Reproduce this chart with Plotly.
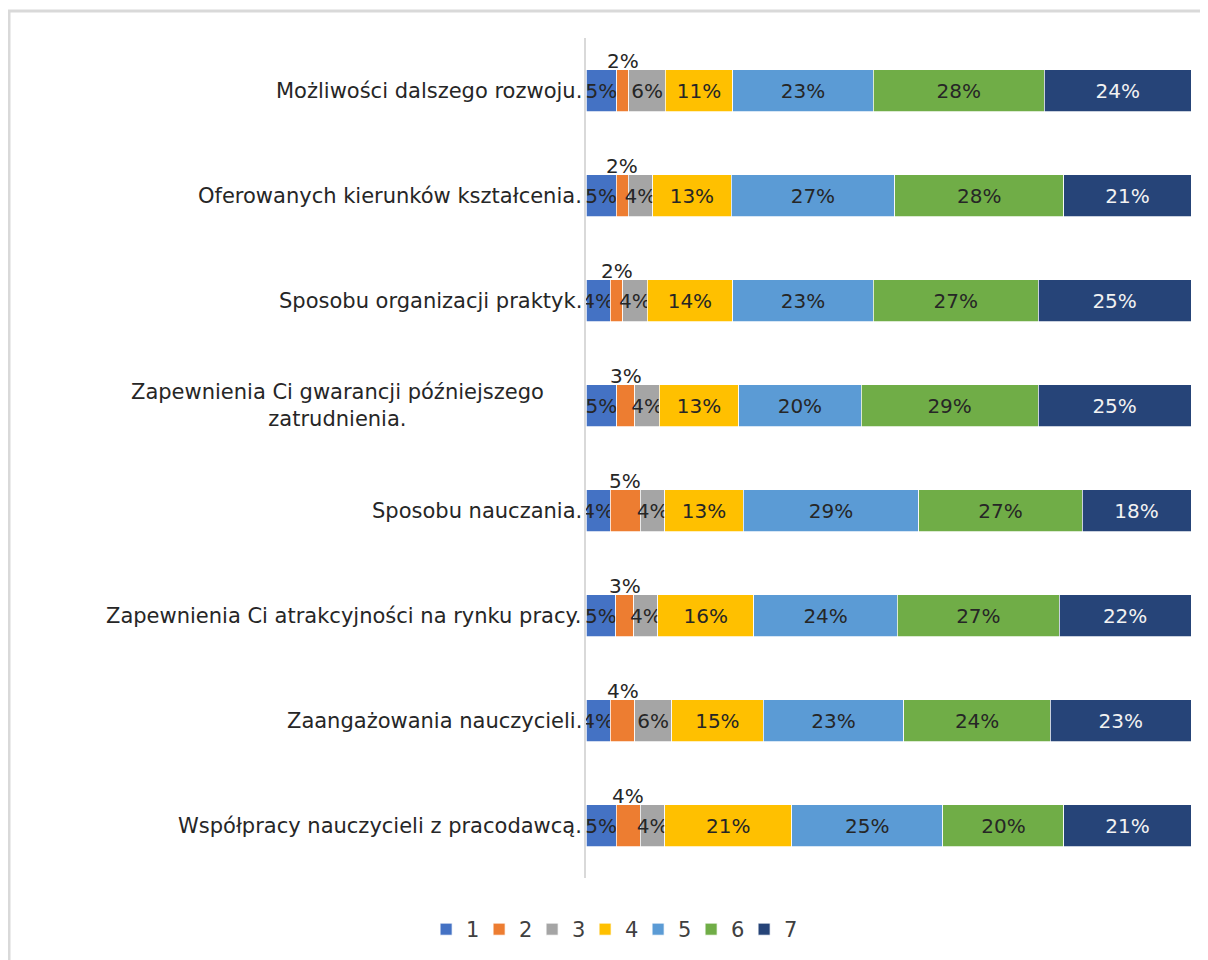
import plotly.graph_objects as go

categories = [
    "Możliwości dalszego rozwoju.",
    "Oferowanych kierunków kształcenia.",
    "Sposobu organizacji praktyk.",
    "Zapewnienia Ci gwarancji późniejszego<br>zatrudnienia.",
    "Sposobu nauczania.",
    "Zapewnienia Ci atrakcyjności na rynku pracy.",
    "Zaangażowania nauczycieli.",
    "Współpracy nauczycieli z pracodawcą.",
]
series_names = ["1", "2", "3", "4", "5", "6", "7"]
s1 = [5, 5, 4, 5, 4, 5, 4, 5]
s2 = [2, 2, 2, 3, 5, 3, 4, 4]
s3 = [6, 4, 4, 4, 4, 4, 6, 4]
s4 = [11, 13, 14, 13, 13, 16, 15, 21]
s5 = [23, 27, 23, 20, 29, 24, 23, 25]
s6 = [28, 28, 27, 29, 27, 27, 24, 20]
s7 = [24, 21, 25, 25, 18, 22, 23, 21]
series_values = [s1, s2, s3, s4, s5, s6, s7]
colors = ["#4472C4", "#ED7D31", "#A5A5A5", "#FFC000", "#5B9BD5", "#70AD47", "#264478"]
text_colors = ["#262626"] * 6 + ["#F2F2F2"]

FONT = "DejaVu Sans"
FS = 20
CAT_FS = 21

W, H = 1200, 952
L, R, T, B = 578, 17, 30, 82
PW = W - L - R
PH = H - T - B

fig = go.Figure()
for i, (name, vals) in enumerate(zip(series_names, series_values)):
    show_inside = i != 1
    fig.add_trace(go.Bar(
        y=categories, x=vals, name=name, orientation="h",
        marker=dict(color=colors[i], line=dict(color="white", width=0.75)),
        text=[f"{v}%" for v in vals] if show_inside else None,
        textposition="inside" if show_inside else "none",
        insidetextanchor="middle",
        textangle=0,
        constraintext="none",
        textfont=dict(family=FONT, size=FS, color=text_colors[i]),
        hoverinfo="x+y+name",
    ))

annotations = []
for j, cat in enumerate(categories):
    total = sum(s[j] for s in series_values)
    start = s1[j] / total * 100
    centre = start + s2[j] / total * 100 / 2
    # labels of series 2 placed above the bar
    annotations.append(dict(
        x=centre, y=cat, xref="x", yref="y", text=f"{s2[j]}%",
        showarrow=False, yshift=30, xanchor="center",
        font=dict(family=FONT, size=FS, color="#262626"),
    ))
    # category labels (wrapped labels are centred in the label area)
    annotations.append(dict(
        x=0, y=cat, xref="paper", yref="y", text=cat, showarrow=False,
        xanchor="right", align="center",
        xshift=-40 if "<br>" in cat else -2,
        font=dict(family=FONT, size=CAT_FS, color="#262626"),
    ))

fig.update_layout(
    barmode="stack",
    barnorm="percent",
    bargap=0.6,
    width=W, height=H,
    margin=dict(l=L, r=R, t=T, b=B),
    paper_bgcolor="white", plot_bgcolor="white",
    font=dict(family=FONT, size=FS, color="#262626"),
    uniformtext=dict(minsize=FS, mode="show"),
    xaxis=dict(range=[0, 100], showgrid=False, showticklabels=False, zeroline=False,
               showline=False, fixedrange=True),
    yaxis=dict(autorange="reversed", showticklabels=False, showgrid=False,
               showline=True, linecolor="#D9D9D9", linewidth=2, ticks=""),
    legend=dict(orientation="h", xref="container", yref="container",
                x=0.503, xanchor="center", y=0.032, yanchor="middle",
                font=dict(family=FONT, size=CAT_FS, color="#404040"),
                traceorder="normal", entrywidth=8, itemwidth=30),
    annotations=annotations,
    shapes=[dict(type="rect", xref="paper", yref="paper",
                 x0=(1 - L) / PW, x1=(W + 30 - L) / PW,
                 y0=-(B + 40) / PH, y1=(PH + T - 3) / PH,
                 line=dict(color="#D9D9D9", width=3), fillcolor="rgba(0,0,0,0)",
                 layer="below")],
)

fig.write_html("out.html")
